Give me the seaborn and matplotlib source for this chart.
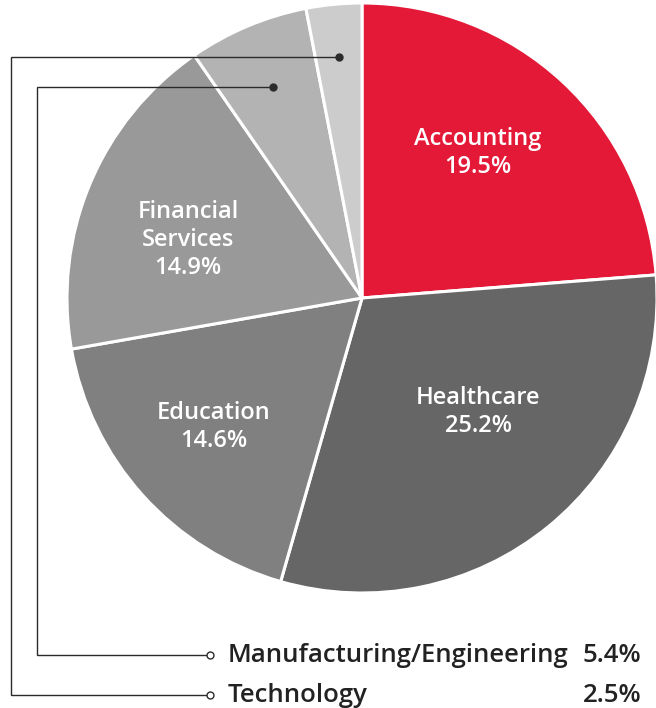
import numpy as np
import matplotlib.pyplot as plt
import seaborn as sns

sns.set_theme(style="white")
plt.rcParams["font.family"] = ["Open Sans", "DejaVu Sans"]

# data (shares of respondents by industry)
industries = ["Accounting", "Healthcare", "Education", "Financial\nServices",
              "Manufacturing/Engineering", "Technology"]
shares = [19.5, 25.2, 14.6, 14.9, 5.4, 2.5]
colors = ["#e31937", "#666666", "#808080", "#999999", "#b3b3b3", "#cccccc"]

W, H = 656, 708
fig = plt.figure(figsize=(W / 100, H / 100), dpi=100)
ax = fig.add_axes([0, 0, 1, 1])

cx, cy, R = 362, H - 298, 295
wedges, _ = ax.pie(shares, colors=colors, startangle=90, counterclock=False,
                   center=(cx, cy), radius=R, frame=True,
                   wedgeprops=dict(edgecolor="white", linewidth=2.2))
ax.set_xlim(0, W)
ax.set_ylim(0, H)
ax.set_aspect("equal")
ax.axis("off")

# labels inside the big slices (pixel positions, y from top)
inside_pos = {0: (478, 153), 1: (478, 412), 2: (214, 427), 3: (188, 240)}
for i, (x, y) in inside_pos.items():
    ax.text(x, H - y, f"{industries[i]}\n{shares[i]}%", color="white",
            ha="center", va="center", fontsize=17, fontweight="semibold",
            linespacing=1.22)

# leader lines for the two small slices
line_c = "#2b2b2b"
small = {4: (0.775, 37, 655), 5: (0.82, 11, 695)}
for i, (rf, xl, yl) in small.items():
    w = wedges[i]
    mid = np.deg2rad((w.theta1 + w.theta2) / 2)
    px, py = cx + rf * R * np.cos(mid), cy + rf * R * np.sin(mid)
    ly = H - yl
    ax.plot([px, xl, xl, 210], [py, py, ly, ly], color=line_c, lw=1.0,
            solid_joinstyle="miter", zorder=5)
    ax.plot(px, py, "o", ms=5, color=line_c, zorder=6)
    ax.plot(210, ly, "o", ms=5, mfc="white", mec=line_c, mew=1.0, zorder=6)
    ax.text(228, ly, industries[i], ha="left", va="center", fontsize=18.5,
            fontweight="semibold", color="#222222")
    ax.text(641, ly, f"{shares[i]}%", ha="right", va="center", fontsize=18.5,
            fontweight="semibold", color="#222222")

fig.savefig("out.png", dpi=100)
